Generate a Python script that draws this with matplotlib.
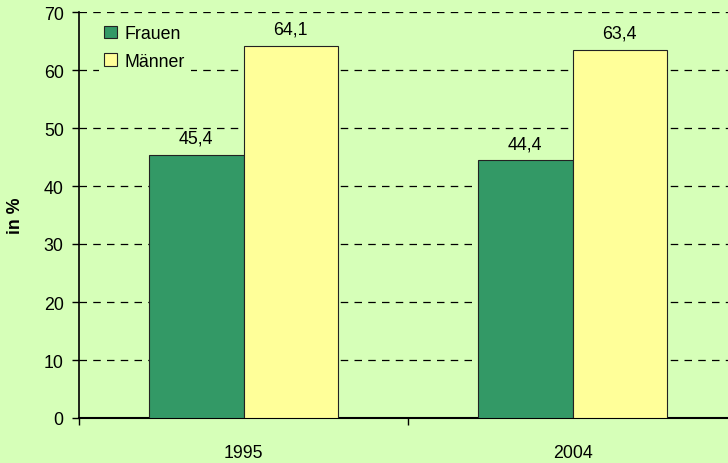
import numpy as np
import matplotlib
matplotlib.use("Agg")
import matplotlib.pyplot as plt

plt.rcParams['font.family'] = ['Liberation Sans', 'DejaVu Sans']

years = ["1995", "2004"]
frauen = [45.4, 44.4]
maenner = [64.1, 63.4]
labels = ["Frauen", "Männer"]

bg = "#D6FFB8"
green = "#339966"
yellow = "#FFFF99"
fs = 12.8

fig = plt.figure(figsize=(7.28, 4.64), dpi=100, facecolor=bg)
ax = fig.add_axes([79 / 728, 45 / 464, 658 / 728, 406 / 464], facecolor=bg)

x = np.arange(len(years))
w = 0.287
b1 = ax.bar(x - w / 2, frauen, w, color=green, edgecolor="#222222", linewidth=0.8, label=labels[0], zorder=3)
b2 = ax.bar(x + w / 2, maenner, w, color=yellow, edgecolor="#222222", linewidth=0.8, label=labels[1], zorder=3)

def fmt(v):
    return f"{v:.1f}".replace(".", ",")

for bars, vals in [(b1, frauen), (b2, maenner)]:
    for r, v in zip(bars, vals):
        ax.annotate(fmt(v), (r.get_x() + r.get_width() / 2, v), xytext=(0, 6),
                    textcoords="offset points", ha="center", va="bottom", fontsize=fs)

ax.set_xlim(-0.5, 1.5)
ax.set_ylim(0, 70)
ax.set_yticks(range(0, 71, 10))
for yv in range(10, 71, 10):
    ax.axhline(yv, color="black", linestyle=(0, (6, 5)), linewidth=0.9, zorder=1)

ax.set_xticks(x)
ax.set_xticklabels(years, fontsize=fs)
ax.tick_params(axis="x", which="major", length=0, pad=19)
ax.set_xticks([-0.5, 0.5, 1.5], minor=True)
ax.tick_params(axis="x", which="minor", length=5, width=1, direction="out")
ax.tick_params(axis="y", labelsize=fs, length=5, width=1, direction="out", pad=6)

for s in ["top", "right"]:
    ax.spines[s].set_visible(False)
ax.spines["left"].set_linewidth(1.2)
ax.spines["bottom"].set_linewidth(1.5)

ax.set_ylabel("in %", fontsize=fs, fontweight="bold", labelpad=14)

leg = ax.legend(loc="upper left", bbox_to_anchor=(0.017, 1.003), frameon=True, fontsize=fs,
                handlelength=0.7, handleheight=0.7, handletextpad=0.45, labelspacing=0.6,
                borderpad=0.3, fancybox=False)
leg.get_frame().set_facecolor(bg)
leg.get_frame().set_edgecolor("none")
leg.get_frame().set_alpha(1)
leg.set_zorder(4)

fig.savefig("out.png", dpi=100, facecolor=bg)
